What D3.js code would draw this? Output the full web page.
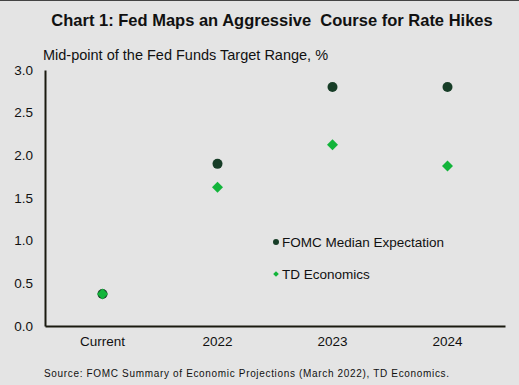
<!DOCTYPE html>
<html>
<head>
<meta charset="utf-8">
<script src="https://cdn.jsdelivr.net/npm/d3@7"></script>
<style>
  body { margin: 0; background: #e4e4e4; }
  svg { display: block; font-family: "Liberation Sans", Arial, sans-serif; }
</style>
</head>
<body>
<div id="chart"></div>
<script>
// data
const categories = ["Current", "2022", "2023", "2024"];
const fomc = [0.375, 1.9, 2.8, 2.8];
const tdEcon = [0.375, 1.625, 2.125, 1.875];
const yTicks = [0, 0.5, 1.0, 1.5, 2.0, 2.5, 3.0];

const W = 519, H = 385;
const margin = {top: 70, right: 14, bottom: 59, left: 45};
const width = W - margin.left - margin.right,
      height = H - margin.top - margin.bottom;

const root = d3.select("#chart").append("svg")
  .attr("width", W).attr("height", H);

root.append("rect").attr("width", W).attr("height", H).attr("fill", "#e4e4e4");
root.append("line").attr("x1", 0).attr("x2", W).attr("y1", 0.5).attr("y2", 0.5)
  .attr("stroke", "#444").attr("stroke-width", 1);

// title
root.append("text")
  .attr("x", 272).attr("y", 26)
  .attr("text-anchor", "middle")
  .style("font-size", "16.5px").style("font-weight", "bold")
  .attr("fill", "#111")
  .attr("xml:space", "preserve")
  .text("Chart 1: Fed Maps an Aggressive  Course for Rate Hikes");

// y label
root.append("text")
  .attr("x", 43).attr("y", 60)
  .style("font-size", "14.5px").attr("fill", "#111")
  .text("Mid-point of the Fed Funds Target Range, %");

const svg = root.append("g")
  .attr("transform", `translate(${margin.left}, ${margin.top})`);

const x = d3.scaleBand().domain(categories).range([0, width]);
const y = d3.scaleLinear().domain([0, 3]).range([height, 0]);

// axes
const yAxis = svg.append("g")
  .call(d3.axisLeft(y).tickValues(yTicks).tickSize(0).tickPadding(12)
    .tickFormat(d3.format(".1f")));
yAxis.select(".domain").attr("stroke", "#1a1a10").attr("stroke-width", 2);
yAxis.selectAll("text").style("font-size", "13.5px").attr("fill", "#111")
  .style("font-family", "Liberation Sans, Arial, sans-serif");

const xAxis = svg.append("g")
  .attr("transform", `translate(0, ${height})`)
  .call(d3.axisBottom(x).tickSize(0).tickPadding(10));
xAxis.select(".domain").attr("stroke", "#1a1a10").attr("stroke-width", 2);
xAxis.selectAll("text").style("font-size", "13.5px").attr("fill", "#111")
  .style("font-family", "Liberation Sans, Arial, sans-serif");

const cx = (i) => x(categories[i]) + x.bandwidth() / 2;
const diamond = d3.symbol().type(d3.symbolSquare).size(60);

// FOMC dots
svg.selectAll(".fomc")
  .data(fomc)
  .join("circle")
    .attr("class", "fomc")
    .attr("cx", (d, i) => cx(i))
    .attr("cy", d => y(d))
    .attr("r", 5)
    .attr("fill", "#173d27");

// TD diamonds
svg.selectAll(".td")
  .data(tdEcon)
  .join("path")
    .attr("class", "td")
    .attr("d", diamond)
    .attr("transform", (d, i) => `translate(${cx(i)}, ${y(d)}) rotate(45)`)
    .attr("fill", "#12b43a");

// legend
const legend = [
  {name: "FOMC Median Expectation", type: "dot", y: 242},
  {name: "TD Economics", type: "diamond", y: 274}
];
const lg = root.append("g");
legend.forEach(l => {
  if (l.type === "dot") {
    lg.append("circle").attr("cx", 276).attr("cy", l.y).attr("r", 3).attr("fill", "#173d27");
  } else {
    lg.append("path").attr("d", d3.symbol().type(d3.symbolSquare).size(16))
      .attr("transform", `translate(276, ${l.y}) rotate(45)`).attr("fill", "#12b43a");
  }
  lg.append("text").attr("x", 282).attr("y", l.y + 5)
    .style("font-size", "13.5px").attr("fill", "#111").text(l.name);
});

// source
root.append("text")
  .attr("x", 44).attr("y", 377)
  .style("font-size", "10px").attr("fill", "#111")
  .attr("textLength", 405).attr("lengthAdjust", "spacing")
  .text("Source: FOMC Summary of Economic Projections (March 2022), TD Economics.");
</script>
</body>
</html>
